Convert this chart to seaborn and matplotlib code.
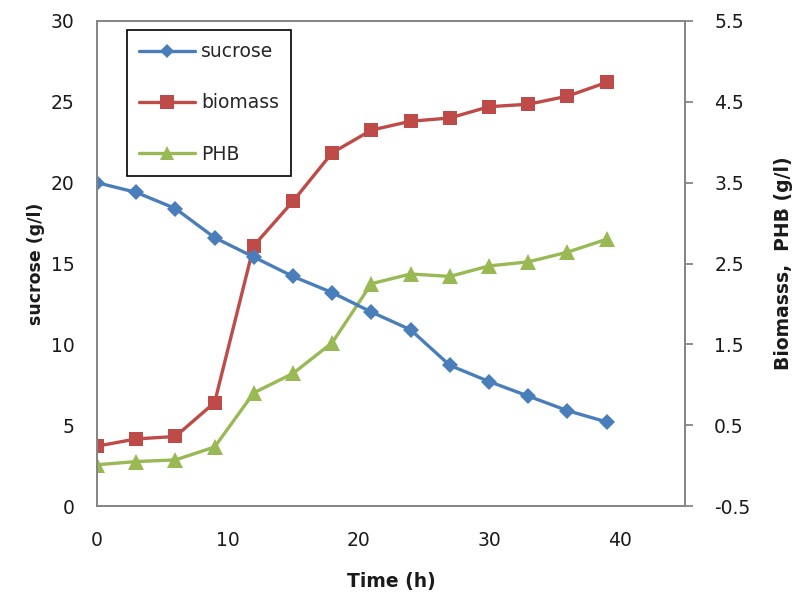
import matplotlib
matplotlib.use("Agg")
import matplotlib.pyplot as plt
import seaborn as sns
import pandas as pd
from matplotlib.lines import Line2D

time_h = [0, 3, 6, 9, 12, 15, 18, 21, 24, 27, 30, 33, 36, 39]
sucrose = [20.0, 19.4, 18.4, 16.6, 15.4, 14.2, 13.2, 12.0, 10.9, 8.7, 7.7, 6.8, 5.9, 5.2]
biomass = [0.24, 0.33, 0.36, 0.78, 2.72, 3.27, 3.87, 4.15, 4.26, 4.30, 4.44, 4.47, 4.57, 4.74]
phb = [0.01, 0.05, 0.07, 0.23, 0.90, 1.14, 1.52, 2.25, 2.37, 2.34, 2.47, 2.52, 2.64, 2.80]

left_ticks = [0, 5, 10, 15, 20, 25, 30]
right_ticks = [-0.5, 0.5, 1.5, 2.5, 3.5, 4.5, 5.5]
x_ticks = [0, 10, 20, 30, 40]

sns.set_theme(style="white")
plt.rcParams['font.family'] = ['DejaVu Sans']

c_blue = "#4A7EBB"
c_red = "#BE4B48"
c_green = "#98B954"
spine_c = "#868686"
text_c = "#1a1a1a"

df = pd.DataFrame({"time": time_h, "sucrose": sucrose, "biomass": biomass, "phb": phb})

fig = plt.figure(figsize=(7.94, 5.93), dpi=100)
ax = fig.add_axes([97/794, 1-506/593, (685-97)/794, (506-21)/593])
ax2 = ax.twinx()

lw = 2.4
sns.lineplot(data=df, x="time", y="sucrose", ax=ax, color=c_blue, marker="D",
             markersize=8, markeredgewidth=0, linewidth=lw)
sns.lineplot(data=df, x="time", y="biomass", ax=ax2, color=c_red, marker="s",
             markersize=10.5, markeredgewidth=0, linewidth=lw)
sns.lineplot(data=df, x="time", y="phb", ax=ax2, color=c_green, marker="^",
             markersize=11, markeredgewidth=0, linewidth=lw)

ax.set_xlim(0, 45)
ax.set_ylim(0, 30)
ax2.set_ylim(-0.5, 5.5)
ax.set_xticks(x_ticks)
ax.set_yticks(left_ticks)
ax2.set_yticks(right_ticks)
ax2.set_yticklabels([f"{t:.1f}" for t in right_ticks])

for a in (ax, ax2):
    for s in a.spines.values():
        s.set_color(spine_c)
        s.set_linewidth(1.3)
ax.grid(False)
ax2.grid(False)

ax.tick_params(axis="y", length=0, pad=16, labelsize=13.5, labelcolor=text_c)
ax.tick_params(axis="x", length=0, pad=18, labelsize=13.5, labelcolor=text_c)
ax2.tick_params(axis="y", direction="out", length=6, width=1.3, color=spine_c,
                pad=15, labelsize=13.5, labelcolor=text_c)

ax.set_xlabel("Time (h)", fontsize=13.5, fontweight="bold", labelpad=16, color=text_c)
ax.set_ylabel("sucrose (g/l)", fontsize=12.5, fontweight="bold", labelpad=4, color=text_c)
ax2.set_ylabel("Biomasss,  PHB (g/l)", fontsize=13.5, fontweight="bold", labelpad=17,
               color=text_c, rotation=90)

handles = [
    Line2D([], [], color=c_blue, marker="D", markersize=7, markeredgewidth=0, linewidth=lw),
    Line2D([], [], color=c_red, marker="s", markersize=10, markeredgewidth=0, linewidth=lw),
    Line2D([], [], color=c_green, marker="^", markersize=10, markeredgewidth=0, linewidth=lw),
]
leg = ax.legend(handles, ["sucrose", "biomass", "PHB"], loc="upper left",
                bbox_to_anchor=(30/588, (506-30)/485), fontsize=13.5,
                frameon=True, fancybox=False, edgecolor="black", framealpha=1,
                borderpad=0.65, labelspacing=1.72, handlelength=3.0, handletextpad=0.3,
                borderaxespad=0)
leg.get_frame().set_linewidth(1.2)
ax.set_zorder(ax2.get_zorder() + 1)
ax.patch.set_visible(False)

fig.savefig("out.png", dpi=100)
